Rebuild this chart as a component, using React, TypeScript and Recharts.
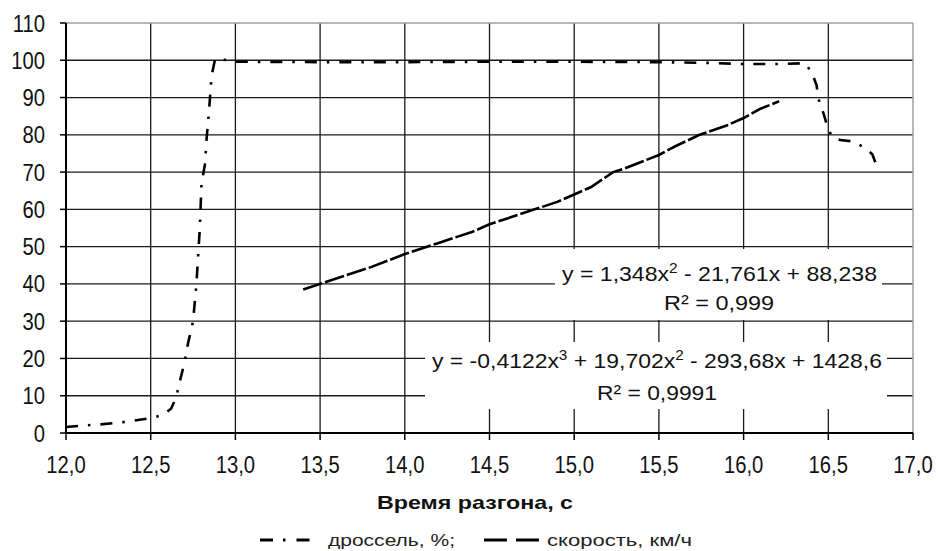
import { LineChart, Line, XAxis, YAxis, CartesianGrid, ReferenceLine } from 'recharts'

const throttleTime = [
  12.0, 12.1, 12.2, 12.3, 12.4, 12.5, 12.57, 12.62, 12.65, 12.67, 12.7, 12.72, 12.75, 12.77, 12.79, 12.8,
  12.82, 12.83, 12.84, 12.85, 12.86, 12.88, 12.92, 12.96, 13.0, 13.5, 14.0, 14.5, 15.0, 15.5, 15.8, 16.0,
  16.2, 16.36, 16.4, 16.43, 16.45, 16.47, 16.49, 16.52, 16.57, 16.65, 16.72, 16.76, 16.79,
]
const throttleValue = [
  1.6, 2.0, 2.3, 2.7, 3.3, 4.0, 4.8, 6.5, 9.5, 13.5, 19, 24, 30, 40, 55, 67,
  72, 79, 84, 90, 96, 100.3, 100.4, 99.8, 99.6, 99.5, 99.5, 99.6, 99.6, 99.5, 99.3, 99.0,
  99.0, 99.2, 97, 93.4, 88, 86, 82.9, 79.5, 78.6, 78.2, 76.4, 74.8, 71.1,
]
const speedTime = [13.4, 13.6, 13.8, 14.0, 14.2, 14.4, 14.5, 14.7, 14.9, 15.0, 15.1, 15.23, 15.3, 15.5, 15.6, 15.74, 15.9, 16.0, 16.1, 16.21]
const speedValue = [38.5, 41.5, 44.5, 48, 51, 54, 56, 59, 62, 64, 66, 70, 71, 74.6, 77, 80, 82.5, 84.5, 87, 89]

const xTicks = [12, 12.5, 13, 13.5, 14, 14.5, 15, 15.5, 16, 16.5, 17]
const yTicks = [0, 10, 20, 30, 40, 50, 60, 70, 80, 90, 100, 110]

const throttleData = throttleTime.map((x, i) => ({ x, y: throttleValue[i] }))
const speedData = speedTime.map((x, i) => ({ x, y: speedValue[i] }))

const FONT = '"Liberation Sans", Arial, sans-serif'

const YTick = ({ x, y, payload }: any) => (
  <g transform={`translate(${x},${y})`}>
    <text transform="scale(0.88,1)" textAnchor="end" dy={8.5} fontSize={23} fontFamily={FONT} fill="#111">
      {payload.value}
    </text>
  </g>
)

const XTick = ({ x, y, payload }: any) => (
  <g transform={`translate(${x},${y})`}>
    <text transform="scale(0.88,1)" textAnchor="middle" dy={25} fontSize={23} fontFamily={FONT} fill="#111">
      {payload.value.toFixed(1).replace('.', ',')}
    </text>
  </g>
)

function Sup({ children }: { children: string }) {
  return (
    <tspan fontSize={14} dy={-8}>
      {children}
    </tspan>
  )
}

export default function App() {
  return (
    <div style={{ position: 'absolute', left: 0, top: 0, width: 938, height: 551, background: '#fff' }}>
      <LineChart width={938} height={551} margin={{ top: 23, right: 25, left: 10, bottom: 78 }}>
        <CartesianGrid
          stroke="#1a1a1a"
          strokeWidth={1.3}
          horizontalValues={yTicks.slice(0, -1)}
          verticalValues={xTicks.slice(0, -1)}
        />
        <XAxis
          type="number"
          dataKey="x"
          domain={[12, 17]}
          ticks={xTicks}
          height={40}
          tickSize={7}
          tickMargin={8}
          tick={<XTick />}
          axisLine={{ stroke: '#000', strokeWidth: 2 }}
          tickLine={{ stroke: '#000', strokeWidth: 1.5 }}
          allowDataOverflow
        />
        <YAxis
          type="number"
          domain={[0, 110]}
          ticks={yTicks}
          width={56}
          tickSize={6}
          tickMargin={15}
          tick={<YTick />}
          axisLine={{ stroke: '#000', strokeWidth: 2 }}
          tickLine={{ stroke: '#000', strokeWidth: 1.5 }}
          allowDataOverflow
        />
        <ReferenceLine y={110} stroke="#a0a0a0" strokeWidth={1.5} />
        <ReferenceLine x={17} stroke="#a0a0a0" strokeWidth={1.5} />
        <Line
          data={throttleData}
          dataKey="y"
          type="linear"
          stroke="#000"
          strokeWidth={2.6}
          strokeDasharray="12 10 2.5 10"
          dot={false}
          isAnimationActive={false}
        />
        <Line
          data={speedData}
          dataKey="y"
          type="linear"
          stroke="#000"
          strokeWidth={2.6}
          strokeDasharray="20 3"
          dot={false}
          isAnimationActive={false}
        />
      </LineChart>
      <svg width={938} height={551} style={{ position: 'absolute', left: 0, top: 0, pointerEvents: 'none' }} fontFamily={FONT}>
        <rect x={555} y={249} width={327} height={71} fill="#fff" />
        <text x={562} y={281} fontSize={21} fill="#111" textLength={315} lengthAdjust="spacingAndGlyphs">
          y = 1,348x<Sup>2</Sup>
          <tspan dy={8}> - 21,761x + 88,238</tspan>
        </text>
        <text x={664} y={310} fontSize={21} fill="#111" textLength={110} lengthAdjust="spacingAndGlyphs">
          R² = 0,999
        </text>
        <rect x={425} y={342} width={462} height={67} fill="#fff" />
        <text x={432} y={368} fontSize={21} fill="#111" textLength={450} lengthAdjust="spacingAndGlyphs">
          y = -0,4122x<Sup>3</Sup>
          <tspan dy={8}> + 19,702x</tspan>
          <Sup>2</Sup>
          <tspan dy={8}> - 293,68x + 1428,6</tspan>
        </text>
        <text x={597} y={400} fontSize={21} fill="#111" textLength={120} lengthAdjust="spacingAndGlyphs">
          R² = 0,9991
        </text>
        <text x={377} y={509} fontSize={19} fontWeight="bold" fill="#111" textLength={196} lengthAdjust="spacingAndGlyphs">
          Время разгона, с
        </text>
        <line x1={260} y1={540} x2={310} y2={540} stroke="#000" strokeWidth={3} strokeDasharray="13 10 2.5 11" />
        <text x={328} y={546} fontSize={17} fill="#222" textLength={127} lengthAdjust="spacingAndGlyphs">
          дроссель, %;
        </text>
        <line x1={484} y1={540} x2={540} y2={540} stroke="#000" strokeWidth={3} strokeDasharray="23 9" />
        <text x={547} y={546} fontSize={17} fill="#222" textLength={145} lengthAdjust="spacingAndGlyphs">
          скорость, км/ч
        </text>
      </svg>
    </div>
  )
}
